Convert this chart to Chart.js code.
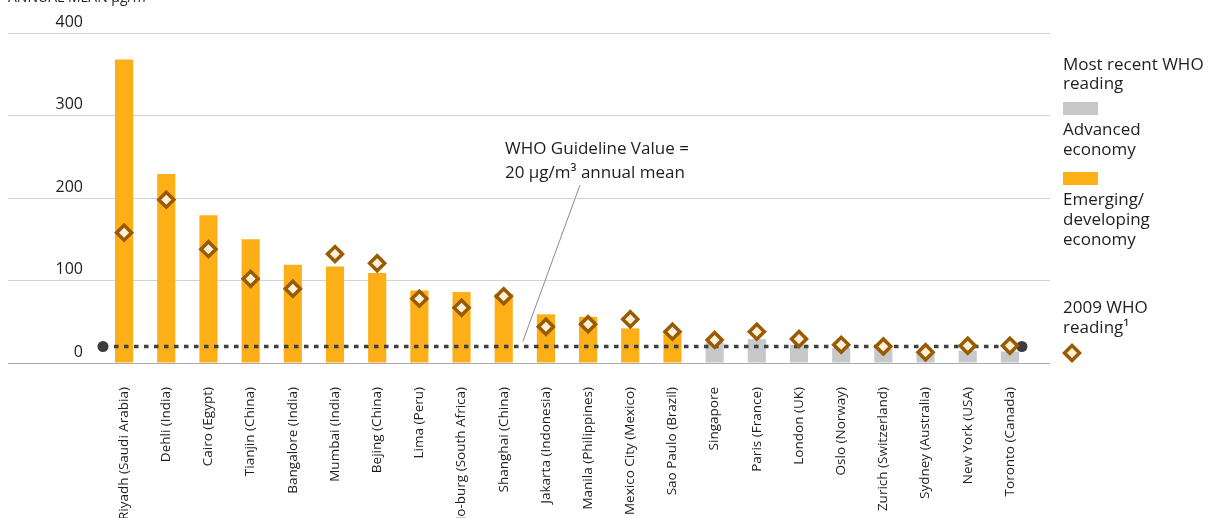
<!DOCTYPE html>
<html>
<head>
<meta charset="utf-8">
<script src="https://cdn.jsdelivr.net/npm/chart.js@4/dist/chart.umd.min.js"></script>
<style>
html,body{margin:0;padding:0;background:#fff;}
#wrap{position:relative;width:1210px;height:518px;overflow:hidden;}
canvas{position:absolute;left:0;top:0;}
</style>
</head>
<body>
<div id="wrap"><canvas id="c" width="1210" height="518"></canvas></div>
<script>
// ---- data ----
const axisTitle = 'ANNUAL MEAN µg/m³';
const cities = ['Riyadh (Saudi Arabia)','Dehli (India)','Cairo (Egypt)','Tianjin (China)','Bangalore (India)','Mumbai (India)','Bejing (China)','Lima (Peru)','Jo-burg (South Africa)','Shanghai (China)','Jakarta (Indonesia)','Manila (Philippines)','Mexico City (Mexico)','Sao Paulo (Brazil)','Singapore','Paris (France)','London (UK)','Oslo (Norway)','Zurich (Switzerland)','Sydney (Australia)','New York (USA)','Toronto (Canada)'];
const recentReading = [368,229,179,150,119,117,109,88,86,84,59,56,42,37,25,29,22,18,17,12,15,14];
const reading2009 = [158,198,138,102,90,132,121,78,67,81,44,47,53,38,28,38,29,22,20,13,21,21];
const economy = ['E','E','E','E','E','E','E','E','E','E','E','E','E','E','A','A','A','A','A','A','A','A'];
const guidelineValue = 20;
const yMin = 0, yMax = 400, yStep = 100;
const guidelineText = ['WHO Guideline Value =', '20 µg/m³ annual mean'];
const legendTitle = ['Most recent WHO', 'reading'];
const legendAdvanced = ['Advanced', 'economy'];
const legendEmerging = ['Emerging/', 'developing', 'economy'];
const legend2009 = ['2009 WHO', 'reading¹'];

// ---- styles ----
const FONT = '"Open Sans", "Noto Sans", sans-serif';
const ORANGE = '#fdaf17', GREY = '#c7c8ca';
const DIA_BORDER = '#995a00', DIA_FILL = '#fff0d9';
const TEXT = '#1e1e1e';
const DIA_R = 7.5, DIA_W = 3.5;

const overlay = {
  id: 'overlay',
  afterDatasetDraw(chart, args) {
    if (args.index !== 0) return;
    const {ctx, chartArea, scales} = chart;
    const py = scales.y.getPixelForValue(guidelineValue);
    const x0 = chartArea.left;
    const x1 = scales.x.getPixelForValue(cities.length - 1) + 12;
    ctx.save();
    ctx.strokeStyle = '#414145';
    ctx.lineWidth = 3.5;
    ctx.setLineDash([4.5, 5.5]);
    ctx.beginPath();
    ctx.moveTo(x0 + 11, py);
    ctx.lineTo(x1 - 7, py);
    ctx.stroke();
    ctx.setLineDash([]);
    ctx.fillStyle = '#3c3c40';
    [x0, x1].forEach(px => { ctx.beginPath(); ctx.arc(px, py, 5.5, 0, Math.PI * 2); ctx.fill(); });
    ctx.restore();
  },
  afterDraw(chart) {
    const {ctx, scales} = chart;
    ctx.save();
    ctx.fillStyle = TEXT;
    ctx.textBaseline = 'alphabetic';
    ctx.textAlign = 'left';
    // axis title (cut off at top)
    ctx.font = '14px ' + FONT;
    ctx.fillText(axisTitle, 8, 2);
    // guideline annotation
    ctx.font = '17px ' + FONT;
    ctx.fillText(guidelineText[0], 505, 154);
    ctx.fillText(guidelineText[1], 505, 178);
    const lx = (scales.x.getPixelForValue(9) + scales.x.getPixelForValue(10)) / 2;
    const ly = scales.y.getPixelForValue(guidelineValue) - 5;
    ctx.strokeStyle = '#8a8a8a';
    ctx.lineWidth = 1;
    ctx.beginPath();
    ctx.moveTo(580, 185);
    ctx.lineTo(lx - 2, ly);
    ctx.stroke();
    // legend
    const LX = 1063;
    ctx.font = '17px ' + FONT;
    ctx.fillText(legendTitle[0], LX, 70);
    ctx.fillText(legendTitle[1], LX, 89);
    ctx.fillStyle = GREY; ctx.fillRect(LX, 102, 35, 13);
    ctx.fillStyle = TEXT;
    legendAdvanced.forEach((t, i) => ctx.fillText(t, LX, 135 + i * 20));
    ctx.fillStyle = ORANGE; ctx.fillRect(LX, 172, 35, 13);
    ctx.fillStyle = TEXT;
    legendEmerging.forEach((t, i) => ctx.fillText(t, LX, 205 + i * 20));
    legend2009.forEach((t, i) => ctx.fillText(t, LX, 313 + i * 20));
    ctx.fillStyle = DIA_FILL; ctx.strokeStyle = DIA_BORDER; ctx.lineWidth = DIA_W;
    Chart.helpers.drawPoint(ctx, {pointStyle: 'rectRot', radius: DIA_R, borderWidth: DIA_W, rotation: 0}, 1072, 353);
    ctx.restore();
  }
};

const gridColor = c => (c.tick && c.tick.value === 0) ? '#a9a9ab' : '#d2d2d2';

new Chart(document.getElementById('c'), {
  type: 'bar',
  data: {
    labels: cities,
    datasets: [
      {
        type: 'bar',
        label: 'Most recent WHO reading',
        data: recentReading,
        backgroundColor: economy.map(e => e === 'A' ? GREY : ORANGE),
        categoryPercentage: 1,
        barPercentage: 0.43,
        order: 2
      },
      {
        type: 'line',
        label: '2009 WHO reading',
        data: reading2009,
        showLine: false,
        pointStyle: 'rectRot',
        pointRadius: DIA_R,
        pointBorderWidth: DIA_W,
        pointBackgroundColor: DIA_FILL,
        pointBorderColor: DIA_BORDER,
        order: 1
      }
    ]
  },
  options: {
    responsive: false,
    animation: false,
    events: [],
    layout: {padding: {left: 8, right: 160, top: 33, bottom: 0}},
    plugins: {legend: {display: false}, tooltip: {enabled: false}, title: {display: false}},
    scales: {
      x: {
        grid: {display: false},
        border: {display: false},
        ticks: {
          autoSkip: false, minRotation: 90, maxRotation: 90, padding: 16,
          color: TEXT, font: {size: 13.5, family: FONT}
        },
        afterFit: s => { s.height = 155; }
      },
      y: {
        min: yMin, max: yMax,
        ticks: {stepSize: yStep, padding: -75, labelOffset: -11, color: TEXT, font: {size: 16, family: FONT}},
        grid: {color: gridColor, tickColor: gridColor, lineWidth: 1, drawTicks: true, tickLength: 95},
        border: {display: false},
        afterFit: s => { s.width = 95; }
      },
      y2: {
        position: 'right',
        min: yMin, max: yMax,
        ticks: {stepSize: yStep, display: false},
        grid: {drawOnChartArea: false, color: gridColor, tickColor: gridColor, lineWidth: 1, drawTicks: true, tickLength: 19},
        border: {display: false},
        afterFit: s => { s.width = 19; }
      }
    }
  },
  plugins: [overlay]
});
</script>
</body>
</html>
